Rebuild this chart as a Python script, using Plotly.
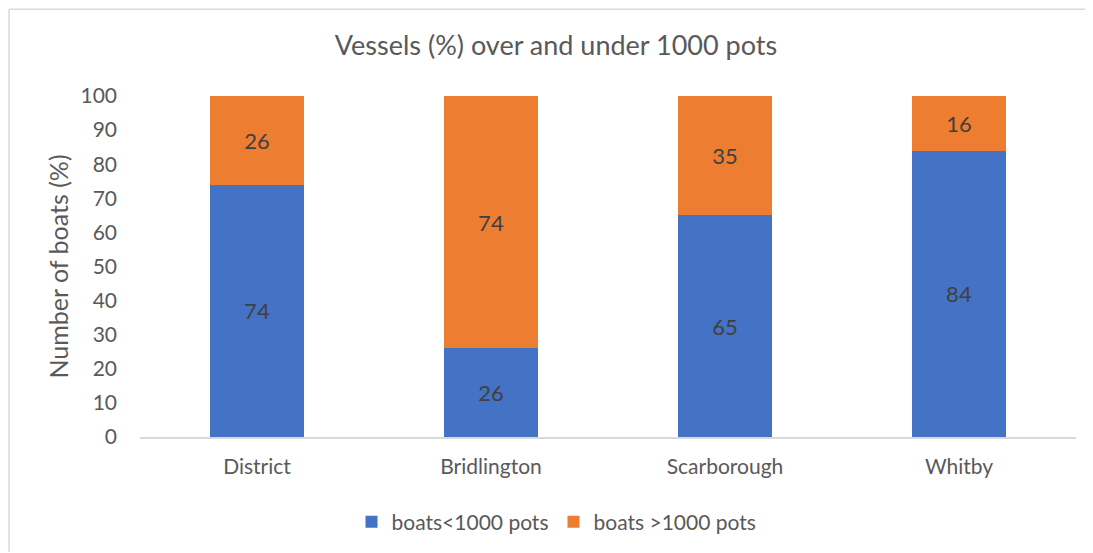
import plotly.graph_objects as go

# 数据
categories = ["District", "Bridlington", "Scarborough", "Whitby"]
under_1000 = [74, 26, 65, 84]
over_1000 = [26, 74, 35, 16]
y_ticks = [0, 10, 20, 30, 40, 50, 60, 70, 80, 90, 100]

FONT = "Lato, Carlito, 'Open Sans', sans-serif"

fig = go.Figure()

fig.add_trace(
    go.Bar(
        x=categories,
        y=under_1000,
        name="boats<1000 pots",
        marker=dict(color="#4472C4", line=dict(width=0)),
        text=under_1000,
        textposition="inside",
        insidetextanchor="middle",
        textfont=dict(color="#404040", size=22),
    )
)
fig.add_trace(
    go.Bar(
        x=categories,
        y=over_1000,
        name="boats >1000 pots",
        marker=dict(color="#ED7D31", line=dict(width=0)),
        text=over_1000,
        textposition="inside",
        insidetextanchor="middle",
        textfont=dict(color="#404040", size=22),
    )
)

# 页面有 8px 的默认边距，图缩小 8px 以免出现滚动条
fig.update_layout(
    barmode="stack",
    bargap=0.6,
    width=1085,
    height=545,
    margin=dict(l=132, r=17, t=88, b=115),
    paper_bgcolor="white",
    plot_bgcolor="white",
    font=dict(family=FONT, color="#595959", size=21),
    title=dict(
        text="Vessels (%) over and under 1000 pots",
        x=(556 - 8) / 1085,
        xanchor="center",
        y=1 - (46 - 8) / 545,
        yanchor="middle",
        font=dict(size=27, color="#595959"),
    ),
    legend=dict(
        orientation="h",
        x=0.445,
        xanchor="center",
        y=-0.246,
        yanchor="middle",
        font=dict(size=21, color="#595959"),
        traceorder="normal",
    ),
    uniformtext=dict(minsize=10),
)

fig.update_yaxes(
    range=[0, 100],
    tickvals=y_ticks,
    showgrid=False,
    zeroline=False,
    showline=False,
    ticks="",
    ticklabelstandoff=22,
    tickfont=dict(size=21),
    title=dict(text="Number of boats (%)", standoff=4, font=dict(size=25)),
)
fig.update_xaxes(
    showline=True,
    linecolor="#D9D9D9",
    linewidth=1.5,
    ticks="",
    showgrid=False,
    ticklabelstandoff=10,
    tickfont=dict(size=21),
)

# 外框: 只有左边和上边可见 (绘图区 936x342 px)
frame_left = (1 - 132) / 936
frame_right = (1085 - 132) / 936
frame_top = (430 - 1) / 342
fig.add_shape(
    type="line", xref="paper", yref="paper",
    x0=frame_left, x1=frame_left, y0=-115 / 342, y1=frame_top,
    line=dict(color="#D9D9D9", width=1.5),
)
fig.add_shape(
    type="line", xref="paper", yref="paper",
    x0=frame_left, x1=frame_right, y0=frame_top, y1=frame_top,
    line=dict(color="#D9D9D9", width=1.5),
)

fig.write_html("out.html")
